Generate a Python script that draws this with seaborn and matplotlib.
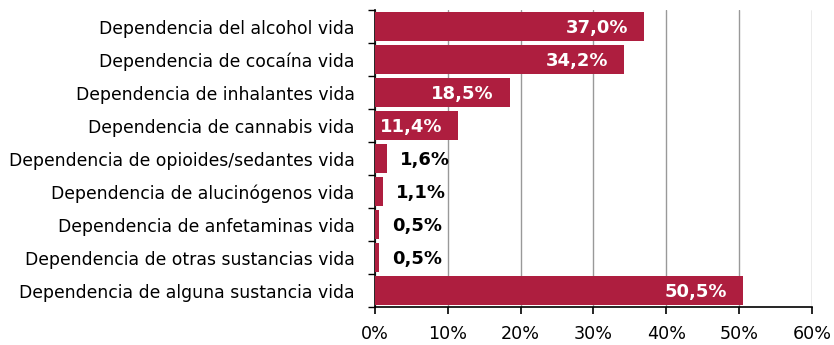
import seaborn as sns
import matplotlib.pyplot as plt
import pandas as pd
from matplotlib.ticker import FixedLocator, PercentFormatter

categorias = [
    "Dependencia del alcohol vida",
    "Dependencia de cocaína vida",
    "Dependencia de inhalantes vida",
    "Dependencia de cannabis vida",
    "Dependencia de opioides/sedantes vida",
    "Dependencia de alucinógenos vida",
    "Dependencia de anfetaminas vida",
    "Dependencia de otras sustancias vida",
    "Dependencia de alguna sustancia vida",
]
porcentajes = [37.0, 34.2, 18.5, 11.4, 1.6, 1.1, 0.5, 0.5, 50.5]

df = pd.DataFrame({"categoria": categorias, "pct": porcentajes})

sns.set_style("ticks")
plt.rcParams["font.family"] = ["DejaVu Sans"]
plt.rcParams["text.color"] = "black"
plt.rcParams["xtick.color"] = "black"
plt.rcParams["ytick.color"] = "black"
plt.rcParams["xtick.labelcolor"] = "black"
plt.rcParams["ytick.labelcolor"] = "black"

fig = plt.figure(figsize=(8.34, 3.45), dpi=100)
ax = fig.add_axes([0.4496, 0.11, 0.524, 0.861])

sns.barplot(data=df, x="pct", y="categoria", color="#AE1E3F",
            saturation=1, width=0.9, linewidth=0, ax=ax, zorder=3)

for i, v in enumerate(porcentajes):
    txt = f"{v:.1f}%".replace(".", ",")
    if v >= 10:
        ax.annotate(txt, (v, i), xytext=(-11.5, -1), textcoords="offset points",
                    ha="right", va="center", color="white",
                    fontsize=13, fontweight="bold", zorder=4)
    else:
        ax.annotate(txt, (v, i), xytext=(9.5, -1), textcoords="offset points",
                    ha="left", va="center", color="black",
                    fontsize=13, fontweight="bold", zorder=4)

ax.set_xlim(0, 60)
ax.set_ylim(8.5, -0.5)
ax.set_xticks(range(0, 61, 10))
ax.xaxis.set_major_formatter(PercentFormatter(decimals=0))
ax.grid(axis="x", color="#999999", linewidth=1, zorder=0)
ax.grid(axis="y", visible=False)

ax.yaxis.set_minor_locator(FixedLocator([k - 0.5 for k in range(10)]))
ax.tick_params(axis="y", which="major", length=0, labelsize=12.4, pad=14.5)
ax.tick_params(axis="y", which="minor", length=5, width=1, left=True)
ax.tick_params(axis="x", which="major", length=5, width=1.2, bottom=True,
               direction="out", labelsize=12.6, pad=8)
for t in ax.xaxis.get_major_ticks():
    t.tick1line.set_visible(True)
    t.tick1line.set_color("black")
    t.tick1line.set_zorder(5)

for s in ["top", "right"]:
    ax.spines[s].set_visible(False)
for s in ["left", "bottom"]:
    ax.spines[s].set_color("black")
    ax.spines[s].set_linewidth(1.2)

ax.set_xlabel("")
ax.set_ylabel("")

fig.savefig("out.png", dpi=100)
